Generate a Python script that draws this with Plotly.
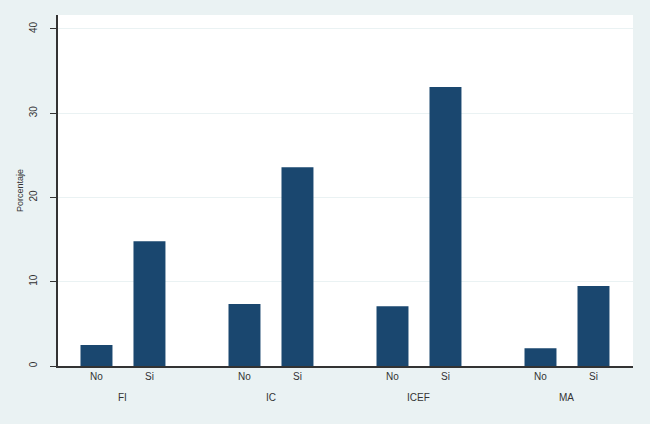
import plotly.graph_objects as go

groups = ["FI", "IC", "ICEF", "MA"]
subcats = ["No", "Si"]
no_vals = [2.5, 7.35, 7.1, 2.1]
si_vals = [14.8, 23.6, 33.1, 9.5]
y_ticks = [0, 10, 20, 30, 40]

BAR = "#1a476f"
BG = "#eaf2f3"
off = 0.179
width = 0.216

xs, ys, labels = [], [], []
for gi, g in enumerate(groups):
    for si, (s, v) in enumerate(zip(subcats, [no_vals[gi], si_vals[gi]])):
        xs.append(gi + (-off if si == 0 else off))
        ys.append(v)
        labels.append(s)

fig = go.Figure(go.Bar(x=xs, y=ys, width=width, marker=dict(color=BAR, line=dict(width=0)),
                       showlegend=False))

font = dict(family="Liberation Sans, Arial, sans-serif", size=10, color="#333333")
fig.update_layout(
    width=650, height=424,
    paper_bgcolor=BG, plot_bgcolor="white",
    margin=dict(l=58, r=17, t=15, b=58),
    font=font,
    xaxis=dict(range=[-0.439, 3.446], tickvals=xs, ticktext=labels, ticks="",
               showgrid=False, zeroline=False, showline=True, linecolor="#333333",
               linewidth=1.5, tickfont=dict(size=10, color="#333333")),
    yaxis=dict(range=[0, 41.66], tickvals=y_ticks, ticks="outside", ticklen=6,
               tickcolor="#333333", tickangle=-90, showline=True, linecolor="#333333",
               linewidth=1.5, gridcolor=BG, gridwidth=1, zeroline=False,
               ticklabelstandoff=9,
               title=dict(text="Porcentaje", font=dict(size=9, color="#333333"), standoff=3),
               tickfont=dict(size=10, color="#333333")),
)
for gi, g in enumerate(groups):
    fig.add_annotation(x=gi, y=-0.09, xref="x", yref="paper", text=g, showarrow=False,
                       font=dict(size=10, color="#333333"), yanchor="middle")

fig.write_html("out.html", config={"displayModeBar": False},
               post_script="document.body.style.margin='0';document.body.style.padding='0';")
